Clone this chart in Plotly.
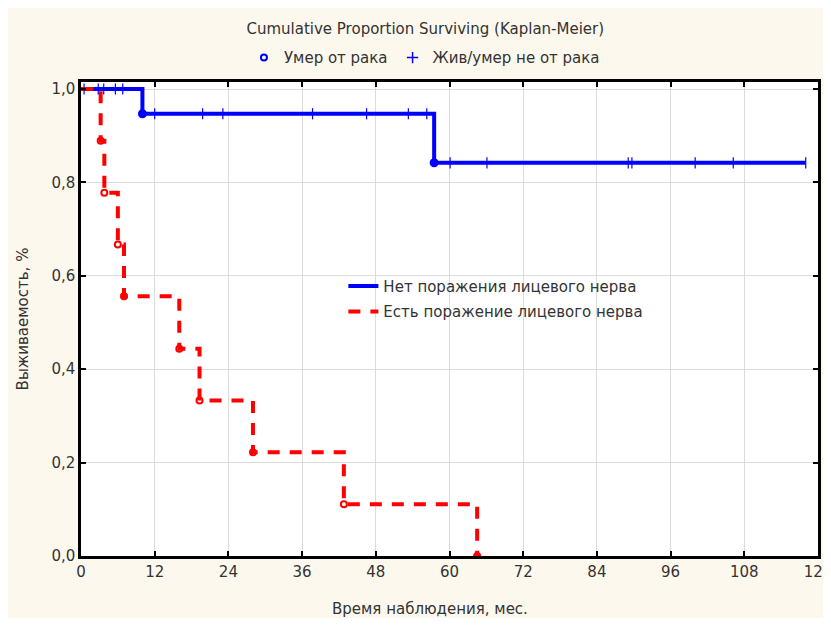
import plotly.graph_objects as go

# Kaplan-Meier steps, group without facial nerve involvement
blue_t = [0, 10, 57.5, 118]
blue_s = [1.0, 0.947, 0.842, 0.842]
blue_event_t = [10, 57.5]
blue_event_s = [0.947, 0.842]
blue_cens_t = [0.5, 2.8, 3.7, 5.6, 6.8, 12, 19.8, 23.1, 37.7, 46.5, 53.3, 56.3,
               60.1, 66.1, 89.1, 89.7, 100, 106.2, 118]
blue_cens_s = [1.0] * 5 + [0.947] * 7 + [0.842] * 7

# group with facial nerve involvement
red_t = [0, 3.2, 3.8, 6, 7, 16, 19.3, 28, 42.8, 64.5]
red_s = [1.0, 0.889, 0.778, 0.667, 0.556, 0.444, 0.333, 0.222, 0.111, 0.0]

x_ticks = [0, 12, 24, 36, 48, 60, 72, 84, 96, 108, 120]
y_ticks = [0, 0.2, 0.4, 0.6, 0.8, 1.0]

BLUE = '#0000ff'
RED = '#ff0000'
TXT = '#333333'
FONT = 'DejaVu Sans'
FS = 15

fig = go.Figure()

fig.add_trace(go.Scatter(
    x=blue_t, y=blue_s, mode='lines', line_shape='hv',
    line=dict(color=BLUE, width=4), legendgroup='a',
    name='Нет поражения лицевого нерва', legend='legend'))
fig.add_trace(go.Scatter(
    x=red_t, y=red_s, mode='lines', line_shape='hv',
    line=dict(color=RED, width=4, dash='12px,10px'), legendgroup='b',
    name='Есть поражение лицевого нерва', legend='legend'))

# markers on curves
fig.add_trace(go.Scatter(
    x=blue_cens_t, y=blue_cens_s, mode='markers', showlegend=False,
    marker=dict(symbol='line-ns', size=8, color=BLUE, line=dict(color=BLUE, width=1.2))))
fig.add_trace(go.Scatter(
    x=blue_event_t, y=blue_event_s, mode='markers', showlegend=False,
    marker=dict(symbol='circle-open', size=6, color=BLUE, line=dict(width=3))))
fig.add_trace(go.Scatter(
    x=red_t[1:], y=red_s[1:], mode='markers', showlegend=False,
    marker=dict(symbol='circle-open', size=6, color=RED, line=dict(width=2))))

# top marker legend
fig.add_trace(go.Scatter(
    x=[None], y=[None], mode='markers', name='Умер от рака', legend='legend2',
    marker=dict(symbol='circle-open', size=6, color=BLUE, line=dict(width=2))))
fig.add_trace(go.Scatter(
    x=[None], y=[None], mode='markers', name='Жив/умер не от рака', legend='legend2',
    marker=dict(symbol='cross-thin-open', size=8, color=BLUE, line=dict(width=1.5))))

fig.update_layout(
    width=815, height=610,
    margin=dict(l=73, r=5, t=74, b=62, autoexpand=False),
    paper_bgcolor='#fdf8ee',
    plot_bgcolor='white',
    separators=', ',
    font=dict(family=FONT, size=FS, color=TXT),
    title=dict(text='Cumulative Proportion Surviving (Kaplan-Meier)',
               x=0.512, xanchor='center', y=0.966, yanchor='middle',
               font=dict(family=FONT, size=FS, color=TXT)),
    legend=dict(x=0.356, y=0.604, xanchor='left', yanchor='top',
                bgcolor='rgba(0,0,0,0)', tracegroupgap=3,
                font=dict(family=FONT, size=FS, color=TXT)),
    legend2=dict(orientation='h', x=0.466, y=1.051, xanchor='center', yanchor='middle',
                 bgcolor='rgba(0,0,0,0)', itemwidth=30,
                 font=dict(family=FONT, size=FS, color=TXT)),
    annotations=[dict(text='Время наблюдения, мес.', xref='paper', yref='paper',
                      x=0.4735, y=-0.112, xanchor='center', yanchor='middle',
                      showarrow=False, font=dict(family=FONT, size=FS, color=TXT))],
    xaxis=dict(
        range=[0, 120], tickvals=x_ticks, ticks='inside', ticklen=5,
        tickwidth=1.5, tickcolor='black', ticklabeloverflow='allow',
        showline=True, linecolor='black', linewidth=2.5, mirror='ticks',
        showgrid=True, gridcolor='#dcdcdc', gridwidth=1, zeroline=False,
        tickfont=dict(family=FONT, size=FS, color=TXT),
    ),
    yaxis=dict(
        range=[0, 1.015], tickvals=y_ticks, tickformat='.1f', ticks='inside',
        ticklen=5, tickwidth=1.5, tickcolor='black',
        showline=True, linecolor='black', linewidth=2.5, mirror='ticks',
        showgrid=True, gridcolor='#dcdcdc', gridwidth=1, zeroline=False,
        tickfont=dict(family=FONT, size=FS, color=TXT),
        title=dict(text='Выживаемость, %', standoff=20,
                   font=dict(family=FONT, size=FS, color=TXT)),
    ),
)

fig.write_html("out.html")
